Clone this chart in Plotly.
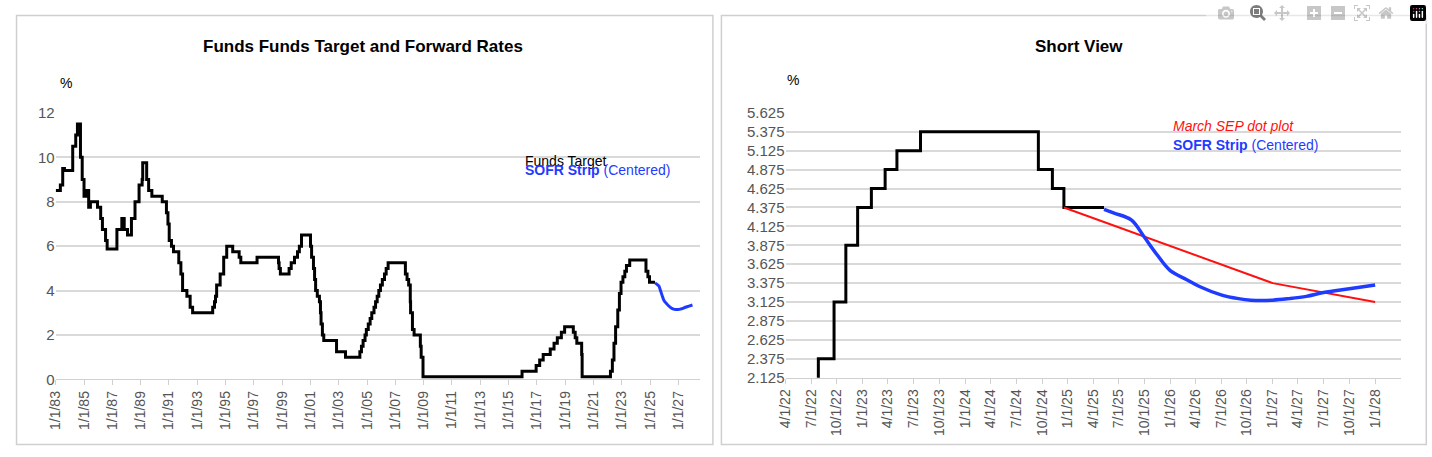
import pandas as pd
import plotly.graph_objects as go

# Fed funds target (midpoint), step dates and levels
ff_dates = ["1983-01-01", "1983-05-01", "1983-07-01", "1983-08-15", "1984-03-15", "1984-06-01", "1984-07-15",
            "1984-10-01", "1984-11-15", "1985-01-01", "1985-03-01", "1985-05-01", "1985-06-15", "1985-12-15",
            "1986-03-07", "1986-04-21", "1986-07-11", "1986-08-21", "1987-04-30", "1987-09-04", "1987-11-04",
            "1988-01-28", "1988-05-09", "1988-08-09", "1988-11-22", "1989-02-09", "1989-02-24", "1989-06-06",
            "1989-07-27", "1989-10-18", "1990-07-13", "1990-10-29", "1990-12-07", "1991-01-09", "1991-03-08",
            "1991-04-30", "1991-09-13", "1991-11-06", "1991-12-20", "1992-04-09", "1992-07-02", "1992-09-04",
            "1994-02-04", "1994-03-22", "1994-04-18", "1994-05-17", "1994-08-16", "1994-11-15", "1995-02-01",
            "1995-07-06", "1995-12-19", "1996-01-31", "1997-03-25", "1998-09-29", "1998-10-15", "1998-11-17",
            "1999-06-30", "1999-08-24", "1999-11-16", "2000-02-02", "2000-03-21", "2000-05-16", "2001-01-03",
            "2001-01-31", "2001-03-20", "2001-04-18", "2001-05-15", "2001-06-27", "2001-08-21", "2001-09-17",
            "2001-10-02", "2001-11-06", "2001-12-11", "2002-11-06", "2003-06-25", "2004-06-30", "2004-08-10",
            "2004-09-21", "2004-11-10", "2004-12-14", "2005-02-02", "2005-03-22", "2005-05-03", "2005-06-30",
            "2005-08-09", "2005-09-20", "2005-11-01", "2005-12-13", "2006-01-31", "2006-03-28", "2006-05-10",
            "2006-06-29", "2007-09-18", "2007-10-31", "2007-12-11", "2008-01-22", "2008-01-30", "2008-03-18",
            "2008-04-30", "2008-10-08", "2008-10-29", "2008-12-16", "2015-12-16", "2016-12-14", "2017-03-15",
            "2017-06-14", "2017-12-13", "2018-03-21", "2018-06-13", "2018-09-26", "2018-12-19", "2019-07-31",
            "2019-09-18", "2019-10-30", "2020-03-03", "2020-03-15", "2022-03-16", "2022-05-04", "2022-06-15",
            "2022-07-27", "2022-09-21", "2022-11-02", "2022-12-14", "2023-02-01", "2023-03-22", "2023-05-03",
            "2023-07-26", "2024-09-18", "2024-11-07", "2024-12-18", "2025-05-10"]
ff_levels = [8.5, 8.75, 9.5, 9.4, 10.5, 11.0, 11.5,
             10.0, 9.0, 8.25, 8.5, 7.75, 8.0, 7.75,
             7.25, 6.75, 6.25, 5.875, 6.75, 7.25, 6.75,
             6.5, 7.25, 8.0, 8.75, 9.0, 9.75, 9.0,
             8.5, 8.25, 8.0, 7.5, 7.0, 6.25, 6.0,
             5.75, 5.25, 4.75, 4.0, 3.75, 3.25, 3.0,
             3.25, 3.5, 3.75, 4.25, 4.75, 5.5, 6.0,
             5.75, 5.5, 5.25, 5.5, 5.25, 5.0, 4.75,
             5.0, 5.25, 5.5, 5.75, 6.0, 6.5, 6.0,
             5.5, 5.0, 4.5, 4.0, 3.75, 3.5, 3.0,
             2.5, 2.0, 1.75, 1.25, 1.0, 1.25, 1.5,
             1.75, 2.0, 2.25, 2.5, 2.75, 3.0, 3.25,
             3.5, 3.75, 4.0, 4.25, 4.5, 4.75, 5.0,
             5.25, 4.75, 4.5, 4.25, 3.5, 3.0, 2.25,
             2.0, 1.5, 1.0, 0.125, 0.375, 0.625, 0.875,
             1.125, 1.375, 1.625, 1.875, 2.125, 2.375, 2.125,
             1.875, 1.625, 1.125, 0.125, 0.375, 0.875, 1.625,
             2.375, 3.125, 3.875, 4.375, 4.625, 4.875, 5.125,
             5.375, 4.875, 4.625, 4.375, 4.375]

# SOFR strip (centered)
sofr_dates = ["2025-05-10", "2025-06-15", "2025-08-15", "2025-10-01", "2025-11-15", "2026-01-01", "2026-03-01",
              "2026-04-15", "2026-07-01", "2026-09-01", "2026-10-15", "2027-01-01", "2027-03-01", "2027-05-01",
              "2027-07-01", "2027-10-01", "2028-01-01"]
sofr_levels = [4.35, 4.3, 4.21, 3.98, 3.75, 3.54, 3.42, 3.33, 3.22, 3.17, 3.15, 3.15, 3.17, 3.2,
               3.25, 3.3, 3.35]

# March SEP dot plot
sep_dates = ["2024-12-18", "2027-01-01", "2028-01-01"]
sep_levels = [4.375, 3.375, 3.125]

left_ticks = pd.date_range("1983-01-01", "2027-01-01", freq="2YS")
left_ticktext = [f"1/1/{d.year % 100:02d}" for d in left_ticks]
right_ticks = pd.date_range("2022-04-01", "2028-01-01", freq="QS-JAN")
right_ticktext = [f"{d.month}/1/{d.year % 100:02d}" for d in right_ticks]

FONT = "Liberation Sans, Arial, sans-serif"
fig = go.Figure()

fig.add_trace(go.Scatter(x=ff_dates, y=ff_levels, mode="lines", line=dict(color="black", width=3, shape="hv"),
                         xaxis="x", yaxis="y"))
fig.add_trace(go.Scatter(x=sofr_dates, y=sofr_levels, mode="lines", line=dict(color="#1f3bff", width=3, shape="spline"),
                         xaxis="x", yaxis="y"))
fig.add_trace(go.Scatter(x=ff_dates, y=ff_levels, mode="lines", line=dict(color="black", width=3, shape="hv"),
                         xaxis="x2", yaxis="y2"))
fig.add_trace(go.Scatter(x=sep_dates, y=sep_levels, mode="lines", line=dict(color="#ff1010", width=2),
                         xaxis="x2", yaxis="y2"))
fig.add_trace(go.Scatter(x=sofr_dates, y=sofr_levels, mode="lines", line=dict(color="#1f3bff", width=3.5, shape="spline"),
                         xaxis="x2", yaxis="y2"))

axis_common = dict(showline=True, linecolor="#d0d0d0", ticks="outside", tickcolor="#d0d0d0", ticklen=5,
                   tickangle=-90, tickfont=dict(size=14, color="#555"), showgrid=False)
yaxis_common = dict(showgrid=True, gridcolor="#d9d9d9", gridwidth=2, zeroline=False,
                    tickfont=dict(size=15, color="#555"), ticks="")

fig.update_layout(
    width=1432, height=457, margin=dict(l=0, r=0, t=0, b=0),
    paper_bgcolor="white", plot_bgcolor="white", showlegend=False,
    font=dict(family=FONT),
    xaxis=dict(domain=[0.0335, 0.486], type="date", range=["1983-01-01", "2028-07-15"],
               tickvals=list(left_ticks), ticktext=left_ticktext, anchor="y", **axis_common),
    yaxis=dict(domain=[0.158, 0.764], range=[0, 12], dtick=2, anchor="x", **yaxis_common),
    xaxis2=dict(domain=[0.546, 0.978], type="date", range=["2022-04-01", "2028-04-01"],
                tickvals=list(right_ticks), ticktext=right_ticktext, anchor="y2", **axis_common),
    yaxis2=dict(domain=[0.162, 0.764], range=[2.125, 5.625], tickvals=[2.125 + 0.25 * i for i in range(15)],
                tickformat=".3f", anchor="x2", **yaxis_common),
)

# panel borders
fig.add_shape(type="rect", xref="paper", yref="paper", x0=0.006, x1=0.495, y0=0.01, y1=0.985,
              line=dict(color="#cfcfcf", width=1.5))
fig.add_shape(type="rect", xref="paper", yref="paper", x0=0.501, x1=0.996, y0=0.01, y1=0.985,
              line=dict(color="#cfcfcf", width=1.5))

ann = [
    dict(x=0.249, y=0.94, text="<b>Funds Funds Target and Forward Rates</b>", font=dict(size=17, color="black")),
    dict(x=0.752, y=0.94, text="<b>Short View</b>", font=dict(size=17, color="black")),
    dict(x=0.041, y=0.855, text="%", font=dict(size=14, color="black")),
    dict(x=0.551, y=0.862, text="%", font=dict(size=14, color="black")),
    dict(x=0.362, y=0.677, text="Funds Target", font=dict(size=14, color="black"), xanchor="left"),
    dict(x=0.362, y=0.633, text="<b>SOFR Strip</b> (Centered)", font=dict(size=14, color="#1f3bff"), xanchor="left"),
    dict(x=0.8165, y=0.757, text="<i>March SEP dot plot</i>", font=dict(size=14, color="#ff1010"), xanchor="left"),
    dict(x=0.8165, y=0.714, text="<b>SOFR Strip</b> (Centered)", font=dict(size=14, color="#1f3bff"), xanchor="left"),
]
for a in ann:
    fig.add_annotation(xref="paper", yref="paper", showarrow=False, xanchor=a.pop("xanchor", "center"), **a)

fig.write_html("out.html")

# remove default page margin so the figure sits at the window's corner
with open("out.html", encoding="utf-8") as f:
    html = f.read()
html = html.replace("<body>", '<body style="margin:0">', 1)
with open("out.html", "w", encoding="utf-8") as f:
    f.write(html)
